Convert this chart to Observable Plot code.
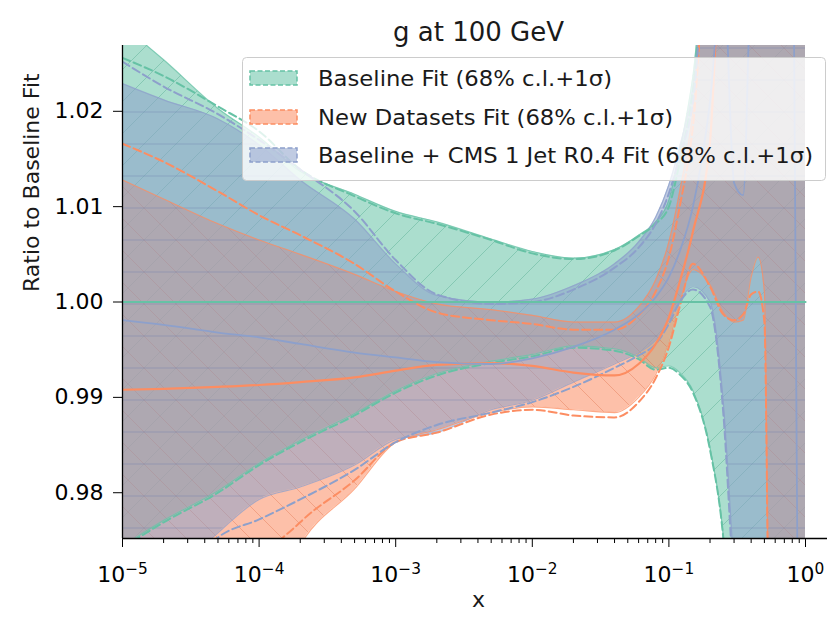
<!DOCTYPE html>
<html>
<head>
<meta charset="utf-8">
<script src="https://cdn.jsdelivr.net/npm/d3@7"></script>
<script src="https://cdn.jsdelivr.net/npm/@observablehq/plot@0.6"></script>
<style>
  html, body { margin: 0; padding: 0; background: #ffffff; }
  #wrap { position: relative; width: 827px; height: 621px; overflow: hidden; font-family: "DejaVu Sans", sans-serif; }
  #legend { position: absolute; left: 242px; top: 57px; }
</style>
</head>
<body>
<div id="wrap"></div>
<script>
// ---------------- data ----------------
const xGrid = [1e-5, 2e-5, 5e-5, 1e-4, 2e-4, 5e-4, 1e-3, 2e-3, 5e-3, 1e-2, 2e-2, 4e-2, 6e-2, 8e-2,
  0.1, 0.12, 0.15, 0.2, 0.25, 0.3, 0.35, 0.4, 0.45, 0.5, 0.55, 0.6, 0.7, 0.8, 0.9, 1.0];

// Baseline Fit (green)
const baselineCentral = [1, 1, 1, 1, 1, 1, 1, 1, 1, 1, 1, 1, 1, 1, 1, 1, 1, 1, 1, 1, 1, 1, 1, 1, 1, 1, 1, 1, 1, 1];
const baselineBandHigh = [1.0290, 1.0254, 1.0203, 1.0173, 1.0137, 1.0113, 1.0095, 1.0084, 1.0066, 1.0053, 1.0046, 1.0055, 1.0070, 1.0084,
  1.0107, 1.0158, 1.0237, 1.04, 1.04, 1.04, 1.04, 1.04, 1.04, 1.04, 1.04, 1.04, 1.04, 1.04, 1.04, 1.04];
const baselineBandLow = [0.9744, 0.9771, 0.9802, 0.9831, 0.9855, 0.9883, 0.9907, 0.9925, 0.9938, 0.9945, 0.9954, 0.9951, 0.9942, 0.9931,
  0.9933, 0.9926, 0.9907, 0.9847, 0.9755, 0.96, 0.96, 0.96, 0.96, 0.96, 0.96, 0.96, 0.96, 0.96, 0.96, 0.96];
const baselineSigmaHigh = [1.0256, 1.0237, 1.0205, 1.0179, 1.0139, 1.0111, 1.0093, 1.0082, 1.0065, 1.0051, 1.0045, 1.0054, 1.0069, 1.0082,
  1.0100, 1.0147, 1.0221, 1.04, 1.04, 1.04, 1.04, 1.04, 1.04, 1.04, 1.04, 1.04, 1.04, 1.04, 1.04, 1.04];
const baselineSigmaLow = [0.9742, 0.9769, 0.9800, 0.9829, 0.9853, 0.9881, 0.9905, 0.9923, 0.9936, 0.9943, 0.9952, 0.9949, 0.9940, 0.9929,
  0.9931, 0.9924, 0.9905, 0.9845, 0.9753, 0.96, 0.96, 0.96, 0.96, 0.96, 0.96, 0.96, 0.96, 0.96, 0.96, 0.96];

// New Datasets Fit (orange)
const newCentral = [0.9908, 0.9909, 0.9911, 0.9913, 0.9916, 0.9921, 0.9928, 0.9934, 0.9936, 0.9933, 0.9926, 0.9923, 0.9935, 0.9956,
  0.9984, 1.0021, 1.0074, 1.0168, 1.04, 1.04, 1.04, 1.04, 1.04, 1.04, 1.04, 1.04, 1.04, 1.04, 1.04, 1.04];
const newBandHigh = [1.0128, 1.0108, 1.0082, 1.0065, 1.0050, 1.0029, 1.0011, 0.9998, 0.9992, 0.9986, 0.9979, 0.9979, 0.9995, 1.0023,
  1.0063, 1.0116, 1.0200, 1.04, 1.04, 1.04, 1.04, 1.04, 1.04, 1.04, 1.04, 1.04, 1.04, 1.04, 1.04, 1.04];
const newBandLow = [0.96, 0.96, 0.96, 0.965, 0.9745, 0.9804, 0.9853, 0.9866, 0.9884, 0.9890, 0.9887, 0.9884, 0.9900, 0.9924,
  0.9958, 1.0000, 1.0034, 1.0018, 0.9989, 0.9979, 0.9981, 1.0026, 1.0047, 1.0011, 0.96, 0.96, 0.96, 0.96, 0.96, 0.96];
const newSigmaHigh = [1.0166, 1.0147, 1.0116, 1.0091, 1.0070, 1.0040, 1.0011, 0.9989, 0.9981, 0.9977, 0.9971, 0.9971, 0.9986, 1.0011,
  1.0047, 1.0100, 1.0184, 1.04, 1.04, 1.04, 1.04, 1.04, 1.04, 1.04, 1.04, 1.04, 1.04, 1.04, 1.04, 1.04];
const newSigmaLow = [0.96, 0.96, 0.96, 0.972, 0.9769, 0.9813, 0.9853, 0.9863, 0.9882, 0.9887, 0.9881, 0.9879, 0.9895, 0.9920,
  0.9953, 0.9995, 1.0040, 1.0016, 0.9987, 0.9981, 0.9987, 1.0008, 1.0011, 0.9979, 0.96, 0.96, 0.96, 0.96, 0.96, 0.96];

// Baseline + CMS 1 Jet R0.4 Fit (blue)
const cmsCentral = [0.9981, 0.9976, 0.9968, 0.9963, 0.9956, 0.9947, 0.9942, 0.9937, 0.9935, 0.9941, 0.9953, 0.9971, 0.9987, 1.0005,
  1.0026, 1.0053, 1.0100, 1.0210, 1.035, 1.0125, 1.0112, 1.035, 1.04, 1.04, 1.04, 1.04, 1.04, 1.04, 0.96, 0.96];
const cmsBandHigh = [1.0229, 1.0212, 1.0192, 1.0165, 1.0128, 1.0087, 1.0040, 1.0007, 1.0000, 1.0003, 1.0017, 1.0040, 1.0063, 1.0089,
  1.0123, 1.0163, 1.0226, 1.04, 1.04, 1.04, 1.04, 1.04, 1.04, 1.04, 1.04, 1.04, 1.04, 1.04, 1.04, 1.04];
const cmsBandLow = [0.96, 0.970, 0.9758, 0.9793, 0.9806, 0.9829, 0.9856, 0.9863, 0.9887, 0.9897, 0.9916, 0.9935, 0.9947, 0.9960,
  0.9981, 1.0002, 1.0016, 1.0000, 0.9895, 0.972, 0.96, 0.96, 0.96, 0.96, 0.96, 0.96, 0.96, 0.96, 0.96, 0.96];
const cmsSigmaHigh = [1.0252, 1.0226, 1.0197, 1.0170, 1.0139, 1.0095, 1.0044, 1.0008, 0.9998, 1.0000, 1.0013, 1.0036, 1.0057, 1.0082,
  1.0114, 1.0153, 1.0210, 1.04, 1.04, 1.04, 1.04, 1.04, 1.04, 1.04, 1.04, 1.04, 1.04, 1.04, 1.04, 1.04];
const cmsSigmaLow = [0.96, 0.968, 0.9753, 0.9772, 0.9793, 0.9824, 0.9853, 0.9871, 0.9884, 0.9895, 0.9911, 0.9931, 0.9944, 0.9956,
  0.9977, 1.0000, 1.0013, 0.9995, 0.9884, 0.970, 0.96, 0.96, 0.96, 0.96, 0.96, 0.96, 0.96, 0.96, 0.96, 0.96];

const seriesLabels = ["Baseline Fit (68% c.l.+1σ)", "New Datasets Fit (68% c.l.+1σ)", "Baseline + CMS 1 Jet R0.4 Fit (68% c.l.+1σ)"];
const seriesColors = ["#66c2a5", "#fc8d62", "#8da0cb"];
const hatchIds = ["hatch-green", "hatch-orange", "hatch-blue"];
const yTicks = [0.98, 0.99, 1.00, 1.01, 1.02];
const xMajorTicks = [1e-5, 1e-4, 1e-3, 1e-2, 1e-1, 1];
const xMinorTicks = [];
for (let e = -5; e < 0; e++) for (let m = 2; m <= 9; m++) xMinorTicks.push(m * Math.pow(10, e));

const titleText = "g at 100 GeV";
const xLabel = "x";
const yLabel = "Ratio to Baseline Fit";

// ---------------- build tables ----------------
function rows(c, bl, bh, sl, sh) {
  return xGrid.map((x, i) => ({x, c: c[i], bl: bl[i], bh: bh[i], sl: sl[i], sh: sh[i]}));
}
const series = [
  rows(baselineCentral, baselineBandLow, baselineBandHigh, baselineSigmaLow, baselineSigmaHigh),
  rows(newCentral, newBandLow, newBandHigh, newSigmaLow, newSigmaHigh),
  rows(cmsCentral, cmsBandLow, cmsBandHigh, cmsSigmaLow, cmsSigmaHigh)
];

const X_MAX = Math.pow(10, 705 / 136.6 - 5);
const Y_MIN = 0.9752, Y_MAX = 1.0269;
const curve = "monotone-x";

const marks = [];
series.forEach((d, k) => {
  marks.push(Plot.areaY(d, {x: "x", y1: "bl", y2: "bh", fill: seriesColors[k], fillOpacity: 0.55, curve, clip: true}));
  marks.push(Plot.areaY(d, {x: "x", y1: "bl", y2: "bh", fill: `url(#${hatchIds[k]})`, curve, clip: true}));
});
series.forEach((d, k) => {
  marks.push(Plot.lineY(d, {x: "x", y: "bl", stroke: seriesColors[k], strokeWidth: 1.2, strokeOpacity: 0.75, curve, clip: true}));
  marks.push(Plot.lineY(d, {x: "x", y: "bh", stroke: seriesColors[k], strokeWidth: 1.2, strokeOpacity: 0.75, curve, clip: true}));
});
series.forEach((d, k) => {
  marks.push(Plot.lineY(d, {x: "x", y: "sl", stroke: seriesColors[k], strokeWidth: 2, strokeDasharray: "8,4", curve, clip: true}));
  marks.push(Plot.lineY(d, {x: "x", y: "sh", stroke: seriesColors[k], strokeWidth: 2, strokeDasharray: "8,4", curve, clip: true}));
});
[1, 2, 0].forEach(k => {
  marks.push(Plot.lineY(series[k], {x: "x", y: "c", stroke: seriesColors[k], strokeWidth: k === 2 ? 1.8 : 2.2, curve, clip: true}));
});

// axes & spines
marks.push(Plot.axisX({ticks: xMinorTicks, tickSize: 5, tickFormat: () => "", label: null, color: "black"}));
marks.push(Plot.axisX({ticks: xMajorTicks, tickSize: 9, tickPadding: 19, fontSize: 22, label: null, color: "black",
  tickFormat: d => { const e = Math.round(Math.log10(d)); return "10|" + (e < 0 ? "\u2212" + (-e) : String(e)); }}));
marks.push(Plot.axisY({ticks: yTicks, tickSize: 9, tickPadding: 10, fontSize: 22, label: null, color: "black",
  tickFormat: d3.format(".2f")}));
marks.push(Plot.ruleY([Y_MIN], {stroke: "black", strokeWidth: 1.3}));
marks.push(Plot.ruleX([1e-5], {stroke: "black", strokeWidth: 1.3}));

// titles
marks.push(Plot.text([titleText], {text: d => d, frameAnchor: "top", dy: -23, dx: 3.5, fontSize: 26, fill: "#1a1a1a"}));
marks.push(Plot.text([xLabel], {text: d => d, frameAnchor: "bottom", dy: 68, dx: 3.5, fontSize: 22, fill: "#1a1a1a"}));
marks.push(Plot.text([yLabel], {text: d => d, frameAnchor: "left", dx: -91, rotate: -90, fontSize: 22, fill: "#1a1a1a"}));

const chart = Plot.plot({
  width: 827, height: 621,
  marginLeft: 122, marginRight: 0, marginTop: 45, marginBottom: 83,
  x: {type: "log", domain: [1e-5, X_MAX], axis: null},
  y: {domain: [Y_MIN, Y_MAX], axis: null},
  style: {fontFamily: "DejaVu Sans, sans-serif", background: "white", color: "#1a1a1a"},
  marks
});

// hatch patterns
const defs = d3.select(chart).insert("defs", ":first-child");
function pattern(id, color, path) {
  const p = defs.append("pattern").attr("id", id).attr("patternUnits", "userSpaceOnUse")
    .attr("width", 32).attr("height", 32);
  p.append("path").attr("d", path).attr("stroke", color).attr("stroke-width", 1)
    .attr("stroke-opacity", 0.35).attr("fill", "none");
}
pattern("hatch-green", "#3f9d80", "M-8,8L8,-8M0,32L32,0M24,40L40,24");
pattern("hatch-orange", "#d8683f", "M-8,24L8,40M0,0L32,32M24,-8L40,8");
pattern("hatch-blue", "#6479aa", "M0,16L32,16");

// superscript exponents on x tick labels
d3.select(chart).selectAll("text").each(function () {
  const t = d3.select(this);
  const s = t.text();
  if (!s.startsWith("10|")) return;
  const exp = s.slice(3);
  t.text(null);
  t.append("tspan").text("10");
  t.append("tspan").attr("dy", "-0.5em").attr("font-size", "0.7em").text(exp);
});

const wrap = document.getElementById("wrap");
wrap.appendChild(chart);

// legend (overlay, upper part of the axes)
const lw = 583, lh = 123;
const rowY = [21, 60, 98];
const textLen = [294, 355, 495];
let lg = `<svg id="legend" width="${lw + 1}" height="${lh + 1}" xmlns="http://www.w3.org/2000/svg">`;
lg += `<rect x="0.5" y="0.5" width="${lw}" height="${lh}" rx="4" fill="white" fill-opacity="0.8" stroke="#cccccc" stroke-width="1"/>`;
seriesLabels.forEach((lab, i) => {
  const c = seriesColors[i];
  lg += `<rect x="8" y="${rowY[i] - 7}" width="47" height="14" fill="${c}" fill-opacity="0.55" stroke="${c}" stroke-width="1.5" stroke-dasharray="5,2.5"/>`;
  lg += `<text x="76" y="${rowY[i] + 8}" font-family="DejaVu Sans, sans-serif" font-size="21.5" fill="#1a1a1a" textLength="${textLen[i]}" lengthAdjust="spacingAndGlyphs">${lab}</text>`;
});
lg += `</svg>`;
wrap.insertAdjacentHTML("beforeend", lg);
</script>
</body>
</html>
